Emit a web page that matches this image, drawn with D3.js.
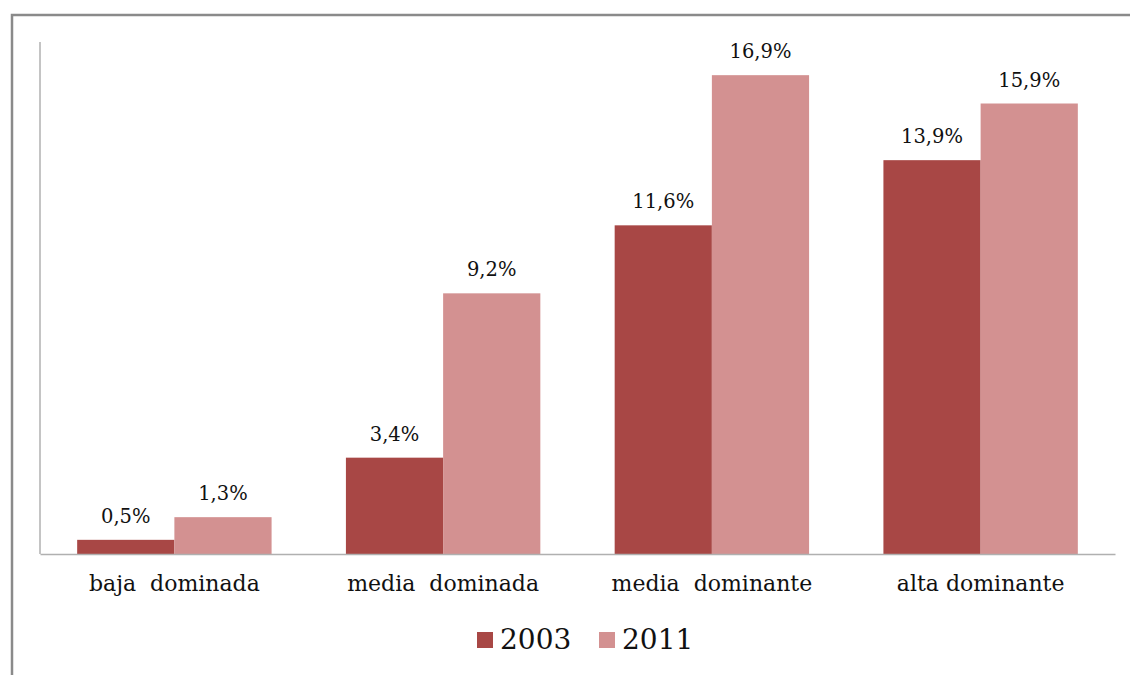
<!DOCTYPE html>
<html>
<head>
<meta charset="utf-8">
<script src="https://cdn.jsdelivr.net/npm/d3@7/dist/d3.min.js"></script>
<style>
  html, body { margin: 0; padding: 0; background: #fff; }
  svg { display: block; }
  text { font-family: "DejaVu Serif", "Liberation Serif", serif; fill: #111; }
</style>
</head>
<body>
<svg id="chart" width="1130" height="675"></svg>
<script>
// Categories and series values (percent)
const categories = ["baja\u00a0 dominada", "media\u00a0 dominada", "media\u00a0 dominante", "alta dominante"];
const seriesNames = ["2003", "2011"];
const values2003 = [0.5, 3.4, 11.6, 13.9];
const values2011 = [1.3, 9.2, 16.9, 15.9];
const colors = ["#A84745", "#D39191"];

const svg = d3.select("#chart");

// Outer frame
svg.append("path")
  .attr("d", "M12,680 L12,15 L1140,15")
  .attr("fill", "none")
  .attr("stroke", "#8a8a8a")
  .attr("stroke-width", 2.5);

const plot = { left: 40, right: 1115, top: 44, bottom: 554 };

const x0 = d3.scaleBand()
  .domain(categories)
  .range([plot.left, plot.right])
  .paddingInner(0.2766)
  .paddingOuter(0.1383);

const x1 = d3.scaleBand()
  .domain(seriesNames)
  .range([0, x0.bandwidth()]);

const y = d3.scaleLinear().domain([0, 18]).range([plot.bottom, plot.top]);

const rows = categories.map((c, i) => ({
  cat: c,
  vals: [
    { s: "2003", v: values2003[i] },
    { s: "2011", v: values2011[i] }
  ]
}));

const fmt = v => d3.format(".1f")(v).replace(".", ",") + "%";

const groups = svg.append("g").selectAll("g")
  .data(rows)
  .join("g")
  .attr("transform", d => `translate(${x0(d.cat)},0)`);

groups.selectAll("rect")
  .data(d => d.vals)
  .join("rect")
  .attr("x", d => x1(d.s))
  .attr("width", x1.bandwidth())
  .attr("y", d => y(d.v))
  .attr("height", d => y(0) - y(d.v))
  .attr("fill", (d, i) => colors[i]);

groups.selectAll("text.val")
  .data(d => d.vals)
  .join("text")
  .attr("class", "val")
  .attr("x", d => x1(d.s) + x1.bandwidth() / 2)
  .attr("y", d => y(d.v) - 17)
  .attr("text-anchor", "middle")
  .attr("font-size", 19.5)
  .text(d => fmt(d.v));

// Axes
const xAxis = svg.append("g")
  .attr("transform", `translate(0,${plot.bottom})`)
  .call(d3.axisBottom(x0).tickSize(0).tickPadding(21));
xAxis.select(".domain").attr("stroke", "#b0b0b0").attr("stroke-width", 1.5);
xAxis.selectAll("text")
  .attr("font-size", 22)
  .attr("font-family", "DejaVu Serif, serif")
  .attr("fill", "#111");

const yAxis = svg.append("g")
  .attr("transform", `translate(${plot.left},0)`)
  .call(d3.axisLeft(y).tickSize(0).tickValues([]));
yAxis.select(".domain").attr("stroke", "#b0b0b0").attr("stroke-width", 1.5)
  .attr("d", `M0,${plot.bottom}V${plot.top - 2}`);

// Legend
const legendItems = [
  { name: seriesNames[0], color: colors[0], x: 477 },
  { name: seriesNames[1], color: colors[1], x: 599 }
];
const lg = svg.append("g");
legendItems.forEach(it => {
  lg.append("rect").attr("x", it.x).attr("y", 632).attr("width", 16).attr("height", 16).attr("fill", it.color);
  lg.append("text").attr("x", it.x + 23).attr("y", 649).attr("font-size", 28).text(it.name);
});
</script>
</body>
</html>
